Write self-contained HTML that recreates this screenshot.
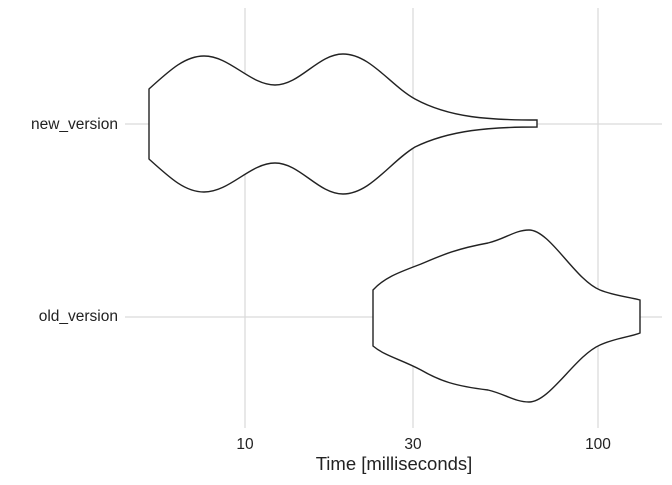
<!DOCTYPE html>
<html><head><meta charset="utf-8"><style>html,body{margin:0;padding:0;background:#fff}</style></head>
<body>
<svg width="672" height="480" viewBox="0 0 672 480" xmlns="http://www.w3.org/2000/svg" font-family="Liberation Sans, sans-serif">
<g stroke="#d9d9d9" stroke-width="1.2">
<line x1="245" y1="8" x2="245" y2="428"/>
<line x1="413" y1="8" x2="413" y2="428"/>
<line x1="598" y1="8" x2="598" y2="428"/>
<line x1="125" y1="124" x2="662" y2="124"/>
<line x1="125" y1="317" x2="662" y2="317"/>
</g>
<g fill="#fff" stroke="#222" stroke-width="1.4">
<path d="M149,159 L149,89 C170,70 185,56 204,56 C230,56 250,85 275,85 C300,85 318,54 343,54 C370,54 390,85 415,99 C450,118 490,120 537,120 L537,127 C490,127 450,130 415,147 C390,162 370,194 343,194 C318,194 300,163 275,163 C250,163 230,192 204,192 C185,192 170,178 149,159 Z"/>
<path d="M373,346 L373,290 C385,277 400,272 421,264 C440,256 455,249 488,243 C505,239 515,230 529,230 C550,230 575,280 600,290 C615,296 630,297 640,300 L640,333 C630,337 615,338 600,345 C575,356 550,402 529,402 C515,402 505,394 488,390 C455,386 440,381 421,370 C400,359 385,356 373,346 Z"/>
</g>
<g font-size="15.5" fill="#222" text-anchor="end">
<text x="118" y="129">new_version</text>
<text x="118" y="321">old_version</text>
</g>
<g font-size="15.5" fill="#222" text-anchor="middle">
<text x="245" y="449">10</text>
<text x="413" y="449">30</text>
<text x="598" y="449">100</text>
<text x="394" y="470" font-size="18.5">Time [milliseconds]</text>
</g>
</svg>
</body></html>
